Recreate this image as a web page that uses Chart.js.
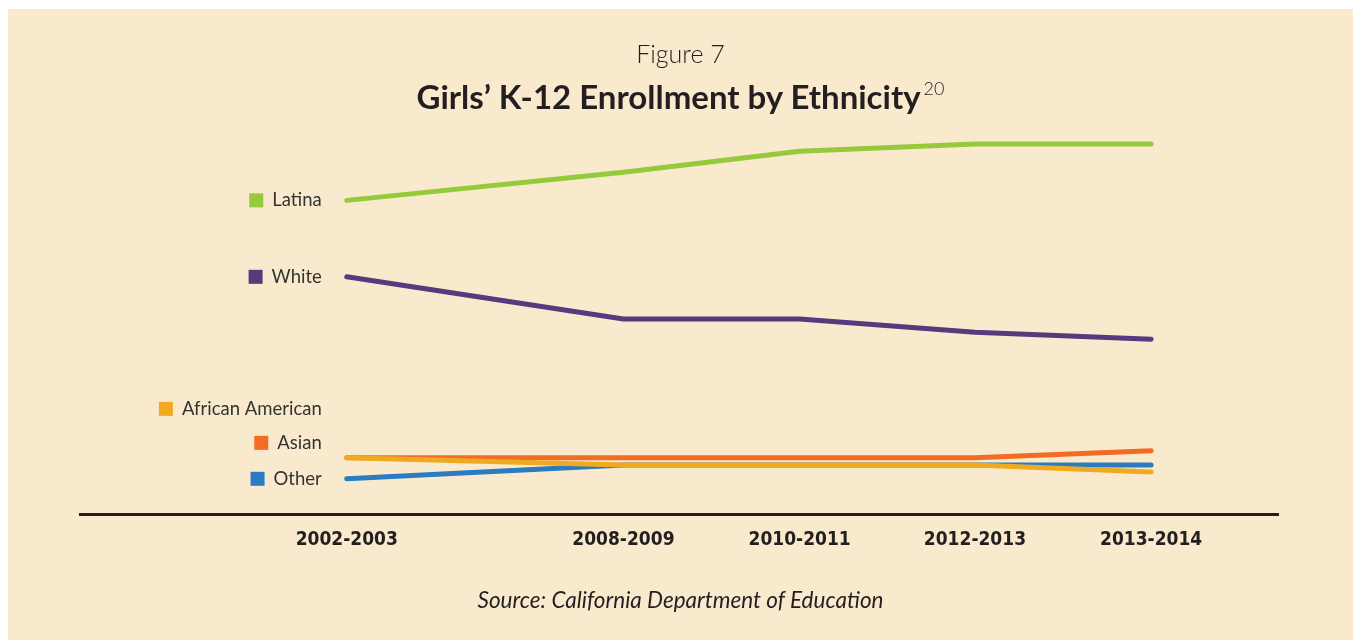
<!DOCTYPE html>
<html lang="en">
<head>
    <meta charset="UTF-8">
    <title>Girls' K-12 Enrollment by Ethnicity</title>
    <script src="https://cdn.jsdelivr.net/npm/chart.js"></script>
    <style>
        body { margin: 0; background: #fff; font-family: Lato, "Open Sans", sans-serif; }
        #box { position: absolute; left: 8px; top: 9px; width: 1345px; height: 631px; background: #faeacd; }
        #fig { position: absolute; left: 0; width: 100%; top: 29px; text-align: center; font-size: 25px; font-weight: 300; color: #231f20; }
        #title { position: absolute; left: 0; width: 100%; top: 67px; text-align: center; font-size: 33px; font-weight: 700; color: #231f20; }
        #title sup { font-size: 18px; font-weight: 300; vertical-align: 14px; margin-left: 3px; }
        #source { position: absolute; left: 0; width: 100%; top: 577px; text-align: center; font-size: 22.5px; font-style: italic; color: #231f20; }
        canvas { position: absolute; left: 0; top: 0; }
    </style>
</head>
<body>
<div id="box">
    <canvas id="chart" width="1345" height="631"></canvas>
    <div id="fig">Figure 7</div>
    <div id="title">Girls’ K-12 Enrollment by Ethnicity<sup>20</sup></div>
    <div id="source">Source: California Department of Education</div>
</div>

<script>
    // school years and where they sit on the (uneven) x axis
    const years = ['2002-2003', '2008-2009', '2010-2011', '2012-2013', '2013-2014'];
    const xSlot = [0, 1.57, 2.57, 3.565, 4.565];

    // share of enrollment (%)
    const latina   = [46, 49.5, 52.1, 53, 53];
    const white    = [36.5, 31.25, 31.25, 29.6, 28.75];
    const african  = [14, 13.1, 13.1, 13.1, 12.25];
    const asian    = [14, 14, 14, 14, 14.9];
    const other    = [11.4, 13.1, 13.1, 13.1, 13.1];

    function pts(vals) { return vals.map((v, i) => ({ x: xSlot[i], y: v })); }

    // legend text drawn left of each line start
    const sideLabels = {
        id: 'sideLabels',
        afterDatasetsDraw(chart) {
            const ctx = chart.ctx;
            const xs = chart.scales.x, ys = chart.scales.y;
            const right = xs.getPixelForValue(xSlot[0]) - 25;
            ctx.save();
            ctx.font = '18.5px Lato, sans-serif';
            ctx.textAlign = 'right';
            ctx.textBaseline = 'middle';
            chart.data.datasets.forEach(ds => {
                const y = ys.getPixelForValue(ds.data[0].y) + (ds.labelShift || 0);
                const w = ctx.measureText(ds.label).width;
                ctx.fillStyle = '#333';
                ctx.fillText(ds.label, right, y);
                ctx.fillStyle = ds.borderColor;
                ctx.fillRect(right - w - 23, y - 7, 14, 14);
            });
            ctx.restore();
        }
    };

    const common = { borderWidth: 5, pointRadius: 0, tension: 0, borderCapStyle: 'round', borderJoinStyle: 'round', fill: false };

    new Chart(document.getElementById('chart'), {
        type: 'line',
        data: {
            datasets: [
                { ...common, label: 'Latina', data: pts(latina), borderColor: '#97c93c', order: 3 },
                { ...common, label: 'White', data: pts(white), borderColor: '#553a7e', order: 4 },
                { ...common, label: 'African American', data: pts(african), borderColor: '#efaa22', order: 0, labelShift: -49 },
                { ...common, label: 'Asian', data: pts(asian), borderColor: '#f26c23', order: 1, labelShift: -15 },
                { ...common, label: 'Other', data: pts(other), borderColor: '#2a7bbf', order: 2 }
            ]
        },
        options: {
            responsive: false,
            animation: false,
            layout: { padding: { left: 72, right: 75, top: 127, bottom: 75 } },
            plugins: { legend: { display: false }, tooltip: { enabled: false } },
            scales: {
                x: {
                    type: 'linear',
                    min: -1.514, max: 5.285,
                    grid: { display: false, drawTicks: false },
                    border: { display: true, color: '#231f20', width: 3 },
                    afterBuildTicks: axis => { axis.ticks = xSlot.map(v => ({ value: v })); },
                    ticks: {
                        padding: 14,
                        autoSkip: false,
                        maxRotation: 0,
                        color: '#231f20',
                        font: { family: '"DejaVu Sans Condensed", "Liberation Sans Narrow", sans-serif', size: 19, weight: 'bold' },
                        callback: v => years[xSlot.indexOf(v)]
                    }
                },
                y: {
                    display: false,
                    min: 7, max: 54
                }
            }
        },
        plugins: [sideLabels]
    });
</script>
</body>
</html>
